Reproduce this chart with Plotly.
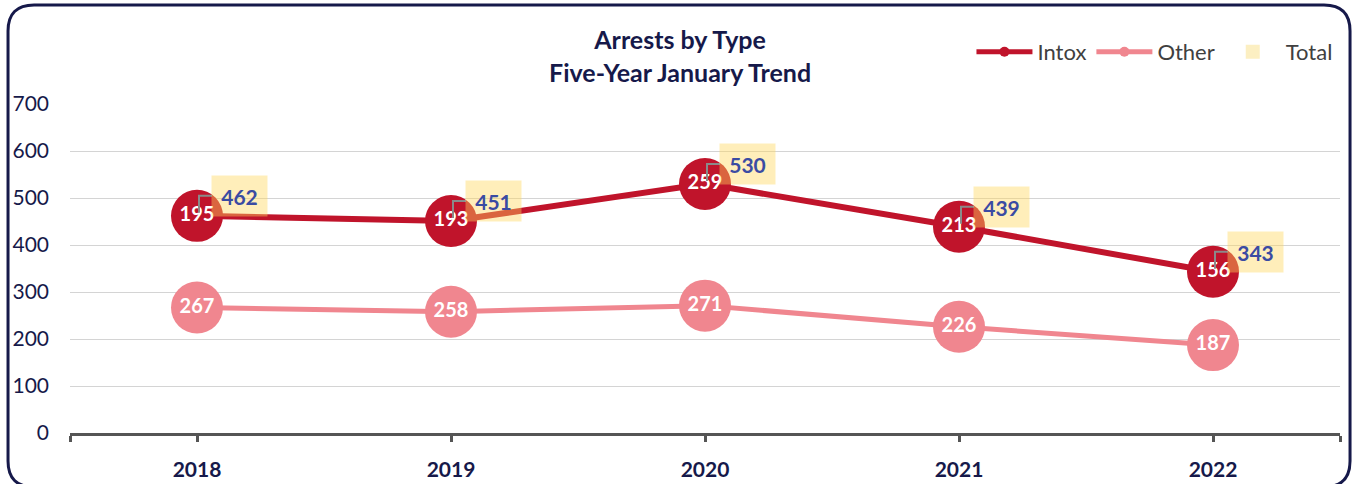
import plotly.graph_objects as go

# January arrests by type, 2018-2022. The Intox line is stacked on top of
# Other, so it sits at the total while its labels show the Intox count.
years = [2018, 2019, 2020, 2021, 2022]
intox = [195, 193, 259, 213, 156]
other = [267, 258, 271, 226, 187]
total = [462, 451, 530, 439, 343]

RED = "#C0142B"
PINK = "#F0868F"
NAVY = "#16194A"
FONT = "Lato"

fig = go.Figure()

fig.add_trace(
    go.Scatter(
        x=years, y=other, text=[str(v) for v in other],
        mode="lines+markers+text", textposition="middle center",
        line=dict(color=PINK, width=5),
        marker=dict(color=PINK, size=52),
        textfont=dict(color="white", size=20, family=FONT, weight="bold"),
        showlegend=False, hoverinfo="skip",
    )
)
fig.add_trace(
    go.Scatter(
        x=years, y=total, text=[str(v) for v in intox],
        mode="lines+markers+text", textposition="middle center",
        line=dict(color=RED, width=6),
        marker=dict(color=RED, size=52),
        textfont=dict(color="white", size=20, family=FONT, weight="bold"),
        showlegend=False, hoverinfo="skip",
    )
)

# legend-only entries
fig.add_trace(go.Scatter(x=[None], y=[None], name="Intox", mode="lines+markers",
                         line=dict(color=RED, width=5), marker=dict(color=RED, size=10)))
fig.add_trace(go.Scatter(x=[None], y=[None], name="Other", mode="lines+markers",
                         line=dict(color=PINK, width=5), marker=dict(color=PINK, size=10)))
fig.add_trace(go.Scatter(x=[None], y=[None], name="Total", mode="markers",
                         marker=dict(color="#FCEFC2", size=14, symbol="square")))

# total labels: translucent yellow boxes with an elbow leader
for yr, t in zip(years, total):
    fig.add_annotation(
        x=yr, y=t, text=str(t), showarrow=False,
        xshift=42, yshift=20, width=53, height=38,
        bgcolor="rgba(255,214,90,0.42)",
        font=dict(color="#3A4BA3", size=21, family=FONT, weight="bold"),
    )
    fig.add_shape(
        type="path", xref="x", yref="y",
        xsizemode="pixel", ysizemode="pixel", xanchor=yr, yanchor=t,
        path="M15,20 L2,20 L2,3",
        line=dict(color="#8A8A8A", width=2), layer="above",
    )

# title
fig.add_annotation(
    xref="paper", yref="paper", x=0.48, y=1.147, yanchor="middle",
    text="Arrests by Type<br>Five-Year January Trend", showarrow=False,
    font=dict(color=NAVY, size=25, family=FONT, weight="bold"),
)

# rounded frame around the whole chart (paper coordinates)
x0, x1, y0, y1 = -0.0488, 1.0079, -0.164, 1.3009
rx, ry = 0.0205, 0.079
frame = (f"M{x0+rx},{y1} L{x1-rx},{y1} Q{x1},{y1} {x1},{y1-ry} "
         f"L{x1},{y0+ry} Q{x1},{y0} {x1-rx},{y0} L{x0+rx},{y0} "
         f"Q{x0},{y0} {x0},{y0+ry} L{x0},{y1-ry} Q{x0},{y1} {x0+rx},{y1} Z")
fig.add_shape(type="path", xref="paper", yref="paper", path=frame,
              line=dict(color=NAVY, width=3), layer="above")

# tick positions: each year plus both ends of the axis
tick_pos = [2017.5] + years + [2022.5]
tick_txt = [""] + [str(y) for y in years] + [""]

fig.update_layout(
    width=1354, height=484, autosize=False,
    margin=dict(l=70, r=14, t=104, b=51, autoexpand=False),
    paper_bgcolor="white", plot_bgcolor="white",
    font=dict(family=FONT, color=NAVY),
    legend=dict(
        orientation="h", xref="paper", x=0.998, xanchor="right",
        y=1.158, yanchor="middle",
        font=dict(size=22, color="#404040", family=FONT),
        itemwidth=56, bgcolor="rgba(0,0,0,0)",
    ),
)
fig.update_xaxes(
    range=[2017.5, 2022.5], tickvals=tick_pos, ticktext=tick_txt,
    showgrid=False, showline=True, linecolor="#555555", linewidth=3,
    ticks="outside", ticklen=6, tickwidth=3, tickcolor="#555555",
    tickfont=dict(size=21, color=NAVY, family=FONT, weight="bold"),
    ticklabelstandoff=10, zeroline=False, fixedrange=True, automargin=False,
)
fig.update_yaxes(
    range=[0, 700], dtick=100, showgrid=True, gridcolor="#D4D4D4", gridwidth=1,
    zeroline=False, showline=False,
    tickfont=dict(size=21, color=NAVY, family=FONT),
    ticklabelstandoff=20, fixedrange=True, automargin=False,
)

fig.write_html(
    "out.html",
    config={"displayModeBar": False, "responsive": False},
    post_script="document.body.style.margin='0';",
)
